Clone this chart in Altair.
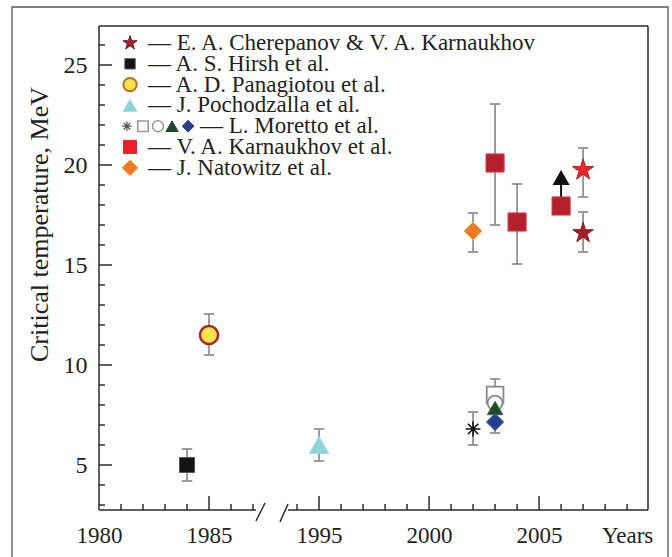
import altair as alt
import pandas as pd

# ---------------- values ----------------
CHER_YEAR = [2007, 2007]
CHER_T = [19.75, 16.6]
HIRSH_YEAR = [1984]
HIRSH_T = [5.0]
PANAG_YEAR = [1985]
PANAG_T = [11.5]
POCH_YEAR = [1995]
POCH_T = [6.0]
MOR_AST_YEAR = [2002]
MOR_AST_T = [6.8]
MOR_SQ_YEAR = [2003]
MOR_SQ_T = [8.5]
MOR_CIRC_YEAR = [2003]
MOR_CIRC_T = [8.1]
MOR_TRI_YEAR = [2003]
MOR_TRI_T = [7.85]
MOR_DIAM_YEAR = [2003]
MOR_DIAM_T = [7.15]
KARN_YEAR = [2003, 2004, 2006]
KARN_T = [20.1, 17.15, 17.95]
NATO_YEAR = [2002]
NATO_T = [16.7]

ERR_YEAR = [1984, 1985, 1995, 2002, 2003, 2004, 2007, 2007, 2002, 2003]
ERR_LO = [4.2, 10.5, 5.2, 15.65, 17.0, 15.05, 18.4, 15.65, 6.0, 6.6]
ERR_HI = [5.8, 12.55, 6.8, 17.6, 23.05, 19.05, 20.85, 17.65, 7.65, 9.3]

ARROW_YEAR = [2006]
ARROW_FROM = [18.4]
ARROW_TO = [19.05]
ARROW_HEAD = [19.35]

Y_TICKS = [5, 10, 15, 20, 25]
X_LABEL_YEARS = [1980, 1985, 1995, 2000, 2005]
X_WORD = "Years"
X_WORD_YEAR = 2009
Y_TITLE = "Critical temperature, MeV"
LEGEND_LABELS = [
    "\u2014 E. A. Cherepanov & V. A. Karnaukhov",
    "\u2014 A. S. Hirsh et al.",
    "\u2014 A. D. Panagiotou et al.",
    "\u2014 J. Pochodzalla et al.",
    "\u2014 L. Moretto et al.",
    "\u2014 V. A. Karnaukhov et al.",
    "\u2014 J. Natowitz et al.",
]

# ---------------- broken axis helper ----------------
GAP = 5  # years 1988..1992 are cut out of the axis


def to_u(year):
    return year if year < 1990 else year - GAP


W, H = 549, 484
FONT = "Liberation Serif, Times New Roman, Times, serif"
TXT = "#231f20"
GRAY = "#8c8c8c"
AXC = "#2b2b2b"

xs = alt.Scale(domain=[1980, 2004.95], nice=False, zero=False)
ys = alt.Scale(domain=[2.75, 26.95], nice=False, zero=False)

x_axis = alt.Axis(
    values=[to_u(y) for y in X_LABEL_YEARS] + [to_u(X_WORD_YEAR)],
    labelExpr=f"datum.value > 2003.5 ? '{X_WORD}' : toString(datum.value < 1988 ? datum.value : datum.value + {GAP})",
    ticks=False, domain=False, grid=False, title=None,
    labelFont=FONT, labelFontSize=23, labelColor=TXT, labelPadding=14,
    labelFlush=False, labelOverlap=False,
)
y_axis = alt.Axis(
    values=Y_TICKS, ticks=False, domain=False, grid=False,
    labelFont=FONT, labelFontSize=24, labelColor=TXT, labelPadding=12,
    title=Y_TITLE, titleFont=FONT, titleFontSize=26, titleFontWeight="normal",
    titleColor=TXT, titleAngle=270, titleX=-60, titleY=198,
    titleAlign="center", titleBaseline="middle",
)


def X(field="u"):
    return alt.X(f"{field}:Q", scale=xs, axis=x_axis)


def Y(field="t"):
    return alt.Y(f"{field}:Q", scale=ys, axis=y_axis)


def pts(years, ts):
    return pd.DataFrame({"u": [to_u(y) for y in years], "t": ts})


def marker(data, shape, size, fill, stroke, sw=1.0, filled=True):
    kw = dict(shape=shape, size=size, stroke=stroke, strokeWidth=sw, opacity=1)
    if filled:
        kw.update(filled=True, fill=fill)
    else:
        kw.update(filled=False)
    return alt.Chart(data).mark_point(**kw).encode(x=X(), y=Y())


def leg_marker(u, t, shape, size, fill, stroke, sw=1.0, filled=True):
    kw = dict(shape=shape, size=size, stroke=stroke, strokeWidth=sw, opacity=1)
    if filled:
        kw.update(filled=True, fill=fill)
    else:
        kw.update(filled=False)
    return alt.Chart(one).mark_point(**kw).encode(
        x=alt.X(datum=u, scale=xs, axis=x_axis), y=alt.Y(datum=t, scale=ys, axis=y_axis))


STAR = ("M0,-1L0.2234,-0.3074L0.9511,-0.309L0.3614,0.1174L0.5878,0.809L0,0.38"
        "L-0.5878,0.809L-0.3614,0.1174L-0.9511,-0.309L-0.2234,-0.3074Z")
AST = "M-1,0L1,0M0,-1L0,1M-0.7,-0.7L0.7,0.7M-0.7,0.7L0.7,-0.7"
CAP = "M-1,0L1,0"

one = pd.DataFrame({"k": [0]})
layers = []

# outer frame of the figure
layers.append(alt.Chart(one).mark_rect(fillOpacity=0, stroke="#555555", strokeWidth=1.3).encode(
    x=alt.value(-87), x2=alt.value(569), y=alt.value(-19), y2=alt.value(H + 60)))

# plot box (top, right, left) and broken bottom axis
rule_kw = dict(color=AXC, strokeWidth=1.5)
layers += [
    alt.Chart(one).mark_rule(**rule_kw).encode(x=alt.value(0), x2=alt.value(W), y=alt.value(0)),
    alt.Chart(one).mark_rule(**rule_kw).encode(x=alt.value(W), y=alt.value(0), y2=alt.value(H)),
    alt.Chart(one).mark_rule(**rule_kw).encode(x=alt.value(0), y=alt.value(0), y2=alt.value(H)),
    alt.Chart(one).mark_rule(**rule_kw).encode(x=alt.value(0), x2=alt.value(157), y=alt.value(H)),
    alt.Chart(one).mark_rule(**rule_kw).encode(x=alt.value(189), x2=alt.value(W), y=alt.value(H)),
    alt.Chart(one).mark_rule(**rule_kw).encode(x=alt.value(157), x2=alt.value(166), y=alt.value(H + 11), y2=alt.value(H - 7)),
    alt.Chart(one).mark_rule(**rule_kw).encode(x=alt.value(181), x2=alt.value(189), y=alt.value(H + 12), y2=alt.value(H - 6)),
]

# inward ticks
y_minor = pd.DataFrame({"v": [v for v in range(3, 27) if v % 5]})
y_major = pd.DataFrame({"v": Y_TICKS})
x_major_years = [1985, 1995, 2000, 2005]
x_minor_years = [y for y in list(range(1981, 1988)) + list(range(1994, 2010)) if y not in x_major_years]
x_minor = pd.DataFrame({"u": [to_u(y) for y in x_minor_years]})
x_major = pd.DataFrame({"u": [to_u(y) for y in x_major_years]})
layers += [
    alt.Chart(y_minor).mark_rule(**rule_kw).encode(x=alt.value(0), x2=alt.value(6), y=Y("v")),
    alt.Chart(y_major).mark_rule(**rule_kw).encode(x=alt.value(0), x2=alt.value(13), y=Y("v")),
    alt.Chart(x_minor).mark_rule(**rule_kw).encode(x=X(), y=alt.value(H), y2=alt.value(H - 6)),
    alt.Chart(x_major).mark_rule(**rule_kw).encode(x=X(), y=alt.value(H), y2=alt.value(H - 14)),
]

# error bars
err = pd.DataFrame({"u": [to_u(y) for y in ERR_YEAR], "lo": ERR_LO, "hi": ERR_HI})
layers.append(alt.Chart(err).mark_rule(color=GRAY, strokeWidth=1.7).encode(
    x=X(), y=Y("lo"), y2=alt.Y2("hi:Q")))
layers.append(alt.Chart(err).transform_fold(["lo", "hi"], as_=["end", "v"]).mark_point(
    shape=CAP, size=110, filled=False, stroke=GRAY, strokeWidth=1.7, opacity=1).encode(
    x=X(), y=Y("v")))

# arrow (lower limit)
arr = pd.DataFrame({"u": [to_u(y) for y in ARROW_YEAR], "a": ARROW_FROM, "b": ARROW_TO, "h": ARROW_HEAD})
layers.append(alt.Chart(arr).mark_rule(color="#111111", strokeWidth=2).encode(
    x=X(), y=Y("a"), y2=alt.Y2("b:Q")))
layers.append(alt.Chart(arr).mark_point(shape="triangle-up", size=190, filled=True, fill="#111111",
                                        stroke="#111111", opacity=1).encode(x=X(), y=Y("h")))

# data markers
cher = pts(CHER_YEAR, CHER_T)
layers += [
    marker(pts(HIRSH_YEAR, HIRSH_T), "square", 225, "#141414", "#555555", 1.0),
    marker(pts(PANAG_YEAR, PANAG_T), "circle", 330, "#ffe44a", "#a8262e", 2.5),
    marker(pts(POCH_YEAR, POCH_T), "triangle-up", 380, "#8fd4d6", "#9fdcdc", 1.0),
    marker(pts(MOR_AST_YEAR, MOR_AST_T), AST, 220, None, "#111111", 1.6, filled=False),
    marker(pts(MOR_SQ_YEAR, MOR_SQ_T), "square", 280, "white", "#8a8a8a", 1.8),
    marker(pts(MOR_CIRC_YEAR, MOR_CIRC_T), "circle", 220, "white", "#8a8a8a", 1.8),
    marker(pts(MOR_DIAM_YEAR, MOR_DIAM_T), "diamond", 300, "#243f8e", "#4a6ab0", 1.0),
    marker(pts(MOR_TRI_YEAR, MOR_TRI_T), "triangle-up", 240, "#1f4a2a", "#3a6a45", 1.0),
    marker(pts(KARN_YEAR, KARN_T), "square", 330, "#b3212e", "#d8404a", 1.0),
    marker(pts(NATO_YEAR, NATO_T), "diamond", 330, "#f07a22", "#ffb060", 1.0),
    marker(cher.iloc[[0]], STAR, 500, "#e42a2e", "#c41c22", 1.0),
    marker(cher.iloc[[1]], STAR, 460, "#a51f2a", "#8a1520", 1.0),
]

# legend
LEG_T0, LEG_STEP = 26.1, 1.04
SYM_U, TXT_U, TXT_U_WIDE = 1981.41, 1982.23, 1984.59
leg_df = pd.DataFrame({"label": LEGEND_LABELS, "row": list(range(len(LEGEND_LABELS)))})
layers.append(alt.Chart(leg_df).transform_calculate(
    t=f"{LEG_T0} - {LEG_STEP} * datum.row",
    u=f"datum.row == 4 ? {TXT_U_WIDE} : {TXT_U}",
).mark_text(align="left", baseline="middle", font=FONT, fontSize=23, color=TXT).encode(
    x=X(), y=Y(), text="label:N"))


def rt(i):
    return LEG_T0 - LEG_STEP * i


layers += [
    leg_marker(SYM_U, rt(0), STAR, 220, "#a3212b", "#7a1520"),
    leg_marker(SYM_U, rt(1), "square", 110, "#141414", "#666666"),
    leg_marker(SYM_U, rt(2), "circle", 180, "#ffe14a", "#b0702a", 2.0),
    leg_marker(SYM_U, rt(3), "triangle-up", 190, "#8dd3d3", "#9fdcdc"),
    leg_marker(1981.27, rt(4), AST, 90, None, "#555555", 1.2, filled=False),
    leg_marker(1982.0, rt(4), "square", 110, "white", "#999999", 1.5),
    leg_marker(1982.68, rt(4), "circle", 120, "white", "#999999", 1.5),
    leg_marker(1983.32, rt(4), "triangle-up", 150, "#1f4a2a", "#1f4a2a"),
    leg_marker(1984.05, rt(4), "diamond", 140, "#253f8a", "#253f8a"),
    leg_marker(SYM_U, rt(5), "square", 170, "#e8202a", "#e8202a"),
    leg_marker(SYM_U, rt(6), "diamond", 250, "#f07a22", "#f5a050"),
]

chart = alt.layer(*layers).properties(
    width=W, height=H,
    autosize=alt.AutoSizeParams(type="none"),
    padding={"left": 99, "top": 26, "right": 24, "bottom": 47},
    background="white",
).configure_view(stroke="transparent")

chart.save("out.html", embed_options={"renderer": "svg", "actions": False})
